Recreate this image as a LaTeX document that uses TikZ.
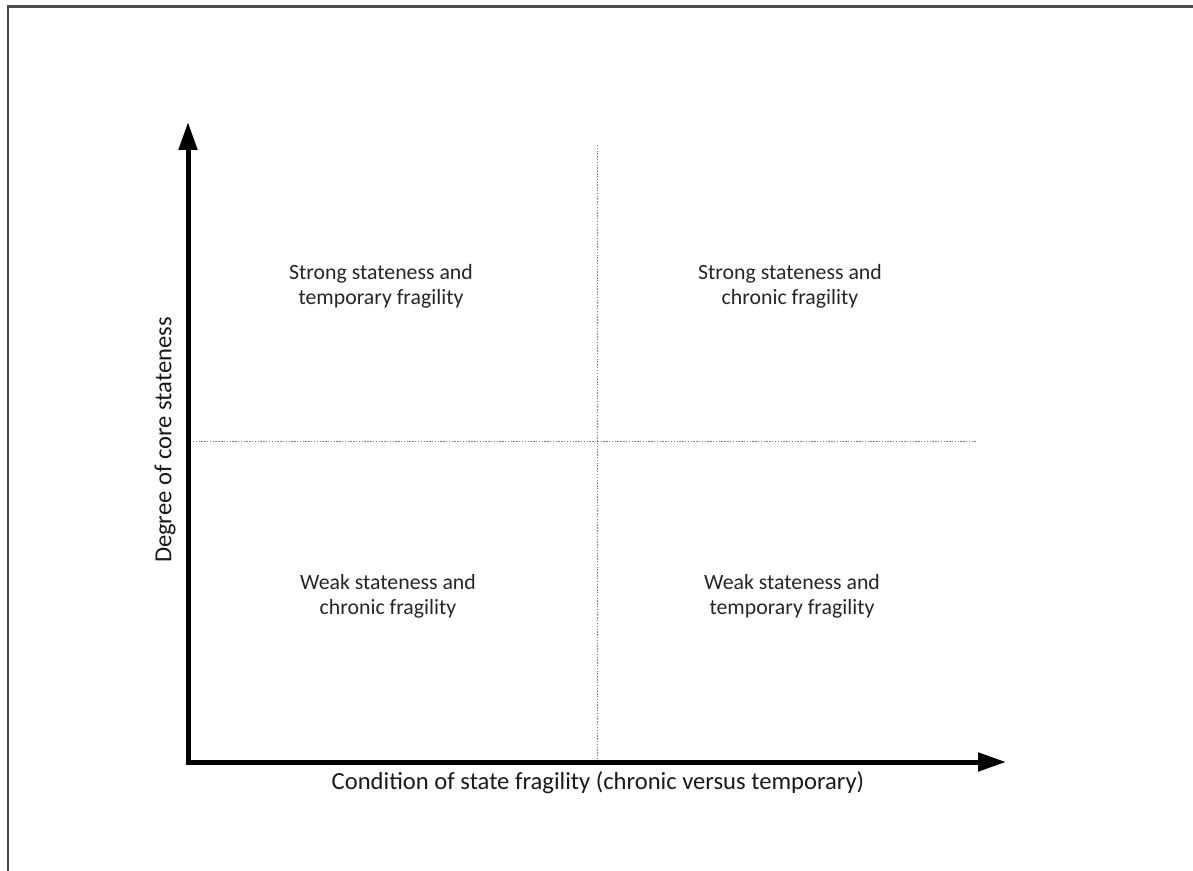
\documentclass[tikz,border=0pt]{standalone}
\usepackage{fontspec}
\setmainfont{Carlito}
\usetikzlibrary{arrows.meta}

\begin{document}
\begin{tikzpicture}[x=0.02cm, y=0.02cm,
  axis/.style={line width=0.1cm},
  divider/.style={gray, line width=0.5pt, dash pattern=on 0.8pt off 0.8pt},
  quadrant/.style={align=center, font=\fontsize{12.4}{14.2}\selectfont, text=black!85},
  axislabel/.style={font=\fontsize{14}{16}\selectfont, text=black!90}]
\clip (0,0) rectangle (1193,870);
\draw[black!70, line width=1.4pt] (8,-20) rectangle (1220,863.5);
% axes
\coordinate (origin) at (188,108);
\coordinate (ytip) at (188,748);
\coordinate (xtip) at (1006,108);
\draw[axis, {Triangle[length=0.56cm, width=0.36cm]}-{Triangle[length=0.56cm, width=0.36cm]}] (ytip) -- (origin) -- (xtip);
% dividers
\coordinate (vtop) at (597,725);
\coordinate (vbot) at (597,110);
\coordinate (hleft) at (193,429);
\coordinate (hright) at (977,429);
\draw[divider] (vtop) -- (vbot);
\draw[divider] (hleft) -- (hright);
% quadrants
\node[quadrant] (sT) at (381,584) {Strong stateness and\\temporary fragility};
\node[quadrant] (sC) at (790,584) {Strong stateness and\\chronic fragility};
\node[quadrant] (wC) at (388,274) {Weak stateness and\\chronic fragility};
\node[quadrant] (wT) at (792,274) {Weak stateness and\\temporary fragility};
% axis labels
\node[axislabel, rotate=90] (ylab) at (165,430) {Degree of core stateness};
\node[axislabel] (xlab) at (598,87) {Condition of state fragility (chronic versus temporary)};
\end{tikzpicture}
\end{document}
